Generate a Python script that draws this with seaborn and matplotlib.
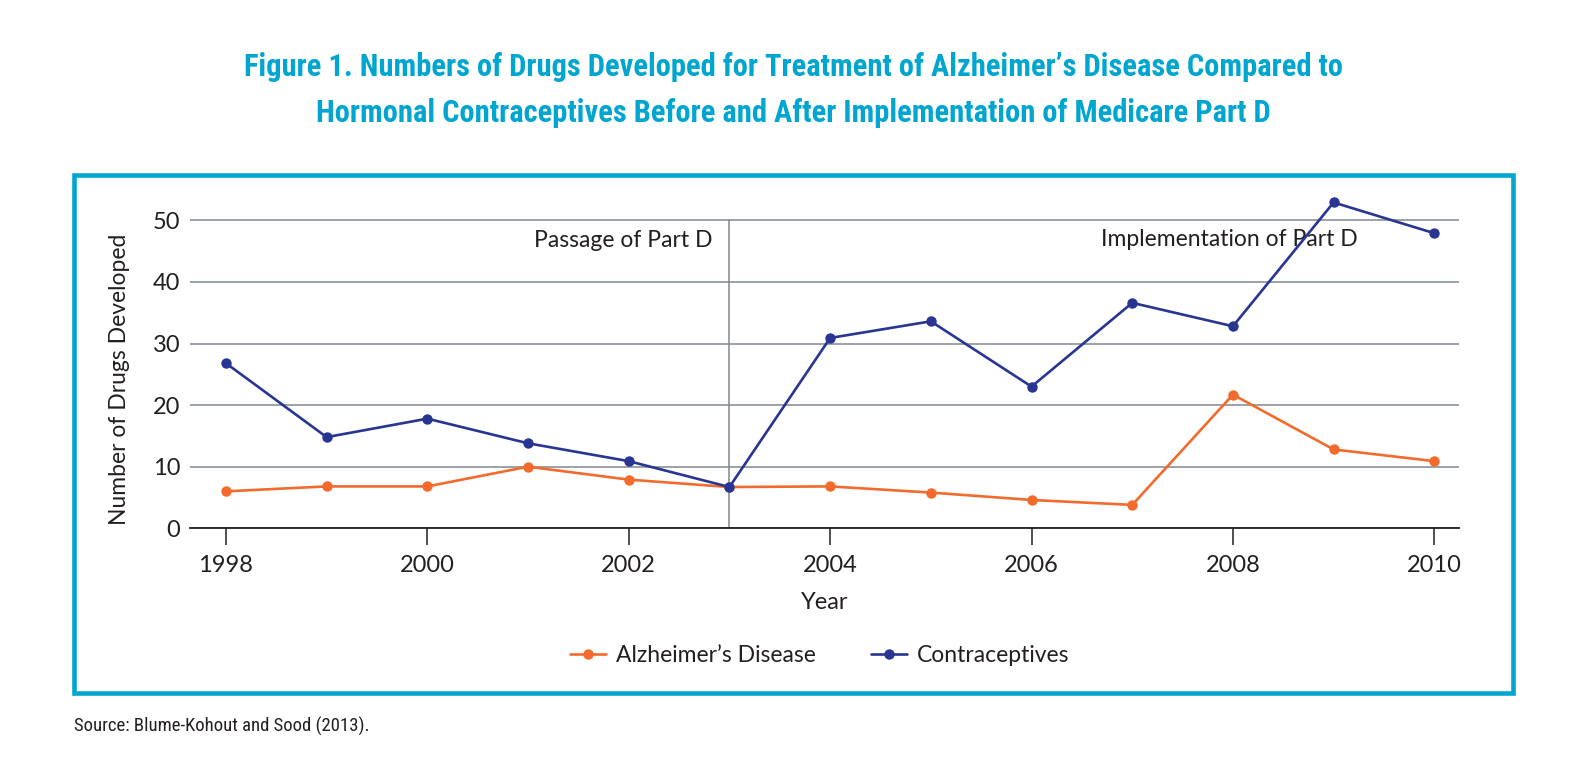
import matplotlib
matplotlib.use("Agg")
import matplotlib.pyplot as plt
import matplotlib.patches as mpatches
from matplotlib import font_manager
import seaborn as sns
import pandas as pd

years = [1998, 1999, 2000, 2001, 2002, 2003, 2004, 2005, 2006, 2007, 2008, 2009, 2010]
alzheimers = [6.0, 6.8, 6.8, 10.0, 7.9, 6.7, 6.8, 5.8, 4.6, 3.8, 21.7, 12.8, 10.9]
contraceptives = [26.8, 14.8, 17.8, 13.8, 10.9, 6.7, 30.9, 33.6, 23.0, 36.6, 32.8, 52.9, 47.9]
series_names = ["Alzheimer\u2019s Disease", "Contraceptives"]
x_ticks = [1998, 2000, 2002, 2004, 2006, 2008, 2010]
y_ticks = [0, 10, 20, 30, 40, 50]

title_lines = ["Figure 1. Numbers of Drugs Developed for Treatment of Alzheimer\u2019s Disease Compared to",
               "Hormonal Contraceptives Before and After Implementation of Medicare Part D"]
source_text = "Source: Blume-Kohout and Sood (2013)."

df = pd.DataFrame({
    "Year": years * 2,
    "Count": alzheimers + contraceptives,
    "Series": [series_names[0]] * len(years) + [series_names[1]] * len(years),
})

avail = {f.name for f in font_manager.fontManager.ttflist}
narrow = [n for n in ["Roboto Condensed", "Liberation Sans Narrow", "Open Sans Condensed"] if n in avail]
title_family = (narrow[:1] or ["Roboto"]) + ["DejaVu Sans"]

sns.set_theme(style="white")
plt.rcParams["font.family"] = ["Lato", "DejaVu Sans"]

ORANGE = "#F26B2D"
NAVY = "#283593"
CYAN = "#00A6CF"
GRID = "#80878E"
TEXT = "#231F20"

fig = plt.figure(figsize=(15.87, 7.69), dpi=100)
ax = fig.add_axes([190 / 1587, 1 - 528.3 / 769, (1459 - 190) / 1587, 55 * 6.16 / 769])

sns.lineplot(data=df, x="Year", y="Count", hue="Series", palette=[ORANGE, NAVY],
             marker="o", markersize=7.5, markeredgewidth=0, linewidth=1.9, ax=ax, zorder=3)

ax.set_xlim(1997.643, 2010.245)
ax.set_ylim(0, 55)
ax.set_xticks(x_ticks)
ax.set_yticks(y_ticks)
ax.yaxis.grid(True, color=GRID, linewidth=1.1)
ax.set_axisbelow(True)
for s in ["top", "left", "right"]:
    ax.spines[s].set_visible(False)
ax.spines["bottom"].set_color(TEXT)
ax.spines["bottom"].set_linewidth(1.3)
ax.tick_params(axis="x", length=12, width=1.1, color=TEXT, direction="out", pad=7.5,
               labelsize=17, labelcolor=TEXT, bottom=True)
ax.tick_params(axis="y", length=0, pad=7, labelsize=17, labelcolor=TEXT)
ax.set_xlabel("Year", fontsize=17, color=TEXT, labelpad=11)
ax.set_ylabel("Number of Drugs Developed", fontsize=16.5, color=TEXT, labelpad=10)
ax.yaxis.set_label_coords(-0.047, 0.44)

ax.axvline(2003, ymin=0, ymax=50 / 55, color=GRID, linewidth=1.1, zorder=1)
ax.text(2002.98 - 0.15, 46.7, "Passage of Part D", ha="right", va="center",
        fontsize=16.5, color=TEXT)
ax.text(2009.24, 46.9, "Implementation of Part D", ha="right", va="center",
        fontsize=16.5, color=TEXT, zorder=2)

ax.get_legend().remove()
handles, labels = ax.get_legend_handles_labels()
fig.legend(handles, labels, loc="center", bbox_to_anchor=(820 / 1587, 1 - 656 / 769),
           ncol=2, frameon=False, fontsize=16.5, handlelength=1.55, handletextpad=0.45,
           columnspacing=2.4, labelcolor=TEXT)

for line, ypx in zip(title_lines, [66.5, 112.5]):
    fig.text(0.5, 1 - ypx / 769, line, ha="center", va="center", fontsize=22,
             fontweight="bold", color=CYAN, family=title_family)

fig.text(74 / 1587, 1 - 726 / 769, source_text, ha="left", va="center", fontsize=13.5,
         color=TEXT, family=title_family)

frame = mpatches.Rectangle((74 / 1587, 1 - 692.5 / 769), (1513 - 74) / 1587, (692.5 - 174.5) / 769,
                           transform=fig.transFigure, fill=False, edgecolor=CYAN,
                           linewidth=3.3, zorder=0)
fig.patches.append(frame)

fig.savefig("out.png", dpi=100, facecolor="white")
